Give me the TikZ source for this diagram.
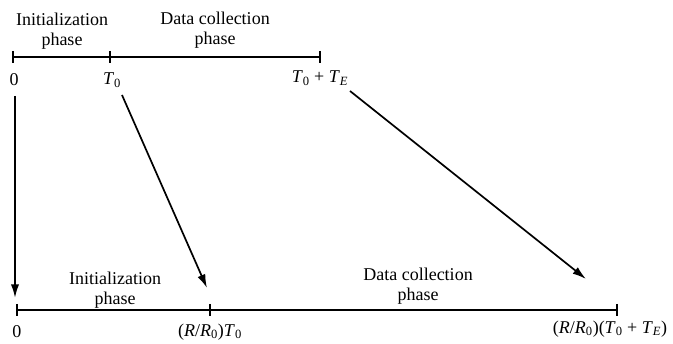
\documentclass[tikz,border=0pt]{standalone}
\usepackage{fontspec}
\setmainfont{Liberation Serif}
\usetikzlibrary{arrows.meta,positioning,calc}
\newcommand{\Tz}{\textit{T}\textsubscript{0}}
\newcommand{\TE}{\textit{T}\textsubscript{\textit{E}}}
\newcommand{\Rratio}{(\textit{R}/\textit{R}\textsubscript{0})}
\tikzset{
  font=\fontsize{18}{20}\selectfont,
  axis/.style={draw=black,line width=1.1pt},
  tick/.style={draw=black,line width=1.1pt},
  arrow/.style={-{Latex[length=4.8mm,width=2.9mm]},draw=black,line width=1.7pt},
  phase/.style={align=center,inner sep=1pt},
  ticklabel/.style={inner sep=1pt},
}

\begin{document}
\begin{tikzpicture}[x=1pt,y=-1pt]
\useasboundingbox (0,0) rectangle (673,344);

% original time axis
\coordinate (a0) at (13,57);
\coordinate (aT) at (110,57);
\coordinate (aE) at (320,57);
\draw[axis] (a0) -- (aE);
\foreach \c in {a0,aT,aE}
  \draw[tick] ($(\c)+(0,-6)$) -- ($(\c)+(0,6)$);

\node[phase] (initA) at (62,31) {Initialization\\phase};
\node[phase] (dataA) at (215,30) {Data collection\\phase};

\node[ticklabel] (zeroA) at (14,80) {0};
\node[ticklabel] (tzA)   at (112,80) {\Tz};
\node[ticklabel] (teA)   at (320,78) {\Tz{} + \TE};

% scaled time axis
\coordinate (b0) at (17,310);
\coordinate (bT) at (210,310);
\coordinate (bE) at (617,310);
\draw[axis] (b0) -- (bE);
\foreach \c in {b0,bT,bE}
  \draw[tick] ($(\c)+(0,-6)$) -- ($(\c)+(0,6)$);

\node[phase] (initB) at (115,290) {Initialization\\phase};
\node[phase] (dataB) at (418,286) {Data collection\\phase};

\node[ticklabel] (zeroB) at (17,332) {0};
\node[ticklabel] (tzB)   at (210,332) {\Rratio\Tz};
\node[ticklabel] (teB)   at (610,329) {\Rratio(\Tz{} + \TE)};

% mapping
\coordinate (startZ) at (15,96);
\coordinate (startT) at (122,95);
\coordinate (startE) at (350,91);
\coordinate (endZ) at (15,298);
\coordinate (endT) at (207,288);
\coordinate (endE) at (586,279);
\draw[arrow] (startZ) -- (endZ);
\draw[arrow] (startT) -- (endT);
\draw[arrow] (startE) -- (endE);

\end{tikzpicture}
\end{document}
